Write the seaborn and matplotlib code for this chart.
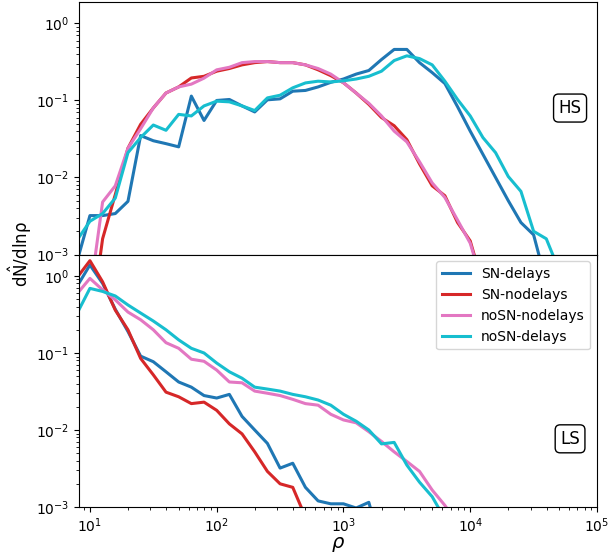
import numpy as np
import pandas as pd
import matplotlib
matplotlib.use("Agg")
import matplotlib.pyplot as plt
import seaborn as sns

# log10(rho) bin centres
log_rho = [0.9, 1.0, 1.1, 1.2, 1.3, 1.4, 1.5, 1.6, 1.7, 1.8, 1.9,
           2.0, 2.1, 2.2, 2.3, 2.4, 2.5, 2.6, 2.7, 2.8, 2.9,
           3.0, 3.1, 3.2, 3.3, 3.4, 3.5, 3.6, 3.7, 3.8, 3.9,
           4.0, 4.1, 4.2, 4.3, 4.4, 4.5, 4.6, 4.7, 4.8]

series_names = ["SN-delays", "SN-nodelays", "noSN-nodelays", "noSN-delays"]
colors = ["#1f77b4", "#d62728", "#e377c2", "#17becf"]

# ---- HS panel (top) ----
hs_sn_delays = [8.3e-4, 3.2e-3, 3.2e-3, 3.4e-3, 4.9e-3, 0.035, 0.030, 0.0275, 0.025, 0.114,
                0.055, 0.100, 0.103, 0.085, 0.071, 0.102, 0.105, 0.132, 0.135, 0.150,
                0.172, 0.19, 0.22, 0.245, 0.34, 0.46, 0.46, 0.31, 0.23, 0.166,
                0.083, 0.040, 0.020, 0.010, 0.005, 0.0026, 0.0018, 4.3e-4]
hs_sn_nodelays = [1e-5, 1e-4, 1.6e-3, 6e-3, 0.024, 0.049, 0.080, 0.125, 0.15, 0.196,
                  0.206, 0.24, 0.26, 0.29, 0.31, 0.32, 0.31, 0.31, 0.29, 0.25,
                  0.21, 0.17, 0.125, 0.089, 0.060, 0.047, 0.031, 0.015, 0.0078, 0.0058,
                  0.0026, 0.0015, 4e-4]
hs_nosn_nodelays = [1e-5, 3e-4, 4.8e-3, 7.8e-3, 0.024, 0.043, 0.080, 0.125, 0.15, 0.163,
                    0.195, 0.25, 0.27, 0.31, 0.32, 0.32, 0.31, 0.31, 0.29, 0.26,
                    0.22, 0.17, 0.125, 0.092, 0.063, 0.040, 0.029, 0.016, 0.0085, 0.0055,
                    0.0028, 0.0014, 4e-4]
hs_nosn_delays = [1.55e-3, 2.7e-3, 3.4e-3, 5.4e-3, 0.021, 0.033, 0.048, 0.041, 0.066, 0.063,
                  0.085, 0.098, 0.096, 0.085, 0.074, 0.108, 0.117, 0.146, 0.169, 0.178,
                  0.174, 0.18, 0.19, 0.206, 0.24, 0.33, 0.38, 0.35, 0.29, 0.178,
                  0.103, 0.063, 0.033, 0.021, 0.0103, 0.0066, 0.0020, 0.0016, 6.3e-4]

# ---- LS panel (bottom) ----
ls_sn_delays = [0.74, 1.39, 0.80, 0.37, 0.19, 0.091, 0.077, 0.057, 0.042, 0.036,
                0.028, 0.026, 0.029, 0.015, 0.010, 0.0067, 0.0032, 0.0037, 0.0018, 0.0012,
                0.0011, 0.0011, 9.7e-4, 1.15e-3, 3e-4]
ls_sn_nodelays = [0.96, 1.58, 0.84, 0.36, 0.20, 0.085, 0.052, 0.031, 0.027, 0.022,
                  0.023, 0.018, 0.012, 0.0089, 0.0052, 0.0029, 0.0020, 0.0018, 7.4e-4]
ls_nosn_nodelays = [0.59, 0.93, 0.66, 0.49, 0.34, 0.27, 0.20, 0.136, 0.115, 0.083,
                    0.078, 0.060, 0.042, 0.041, 0.032, 0.030, 0.028, 0.025, 0.022, 0.021,
                    0.016, 0.0135, 0.0124, 0.0095, 0.0071, 0.0052, 0.0039, 0.0029, 0.00166, 0.00105,
                    6e-4]
ls_nosn_delays = [0.33, 0.69, 0.63, 0.55, 0.42, 0.33, 0.26, 0.20, 0.148, 0.115,
                  0.10, 0.074, 0.057, 0.047, 0.036, 0.034, 0.032, 0.029, 0.027, 0.0245,
                  0.021, 0.016, 0.013, 0.010, 0.0066, 0.0069, 0.0035, 0.0021, 0.00136, 7e-4]

panel_labels = ["HS", "LS"]


def long_frame(series_list):
    rows = []
    for name, vals in zip(series_names, series_list):
        for lr, v in zip(log_rho, vals):
            rows.append({"rho": 10 ** lr, "val": v, "run": name})
    return pd.DataFrame(rows)


df_hs = long_frame([hs_sn_delays, hs_sn_nodelays, hs_nosn_nodelays, hs_nosn_delays])
df_ls = long_frame([ls_sn_delays, ls_sn_nodelays, ls_nosn_nodelays, ls_nosn_delays])
palette = dict(zip(series_names, colors))

W, H = 608, 554
fig, axes = plt.subplots(2, 1, figsize=(W / 100, H / 100), dpi=100, sharex=True)
fig.subplots_adjust(left=79 / W, right=597 / W, top=1 - 2 / H, bottom=1 - 507 / H, hspace=0)

for ax, df, lab, ypos in zip(axes, [df_hs, df_ls], panel_labels, [0.58, 0.27]):
    sns.lineplot(data=df, x="rho", y="val", hue="run", hue_order=series_names,
                 palette=palette, estimator=None, sort=False, linewidth=2.2,
                 ax=ax, legend=(ax is axes[1]))
    ax.set_xscale("log")
    ax.set_yscale("log")
    ax.set_xlim(8.2, 1e5)
    ax.set_ylim(1e-3, 1.9)
    ax.set_xlabel("")
    ax.set_ylabel("")
    ax.text(0.948, ypos, lab, transform=ax.transAxes, fontsize=12,
            ha="center", va="center",
            bbox=dict(boxstyle="round,pad=0.3", facecolor="white", edgecolor="black"))

leg = axes[1].legend(loc="upper right", fontsize=10, title=None)
for line in leg.get_lines():
    line.set_linewidth(2.2)

axes[1].set_xlabel(r"$\rho$", fontsize=14, labelpad=0)
fig.text(0.033, 1 - 254 / H, "d$\\hat{\\mathrm{N}}$/dlnρ", rotation=90,
         ha="center", va="center", fontsize=12)

fig.savefig("out.png", dpi=100)
